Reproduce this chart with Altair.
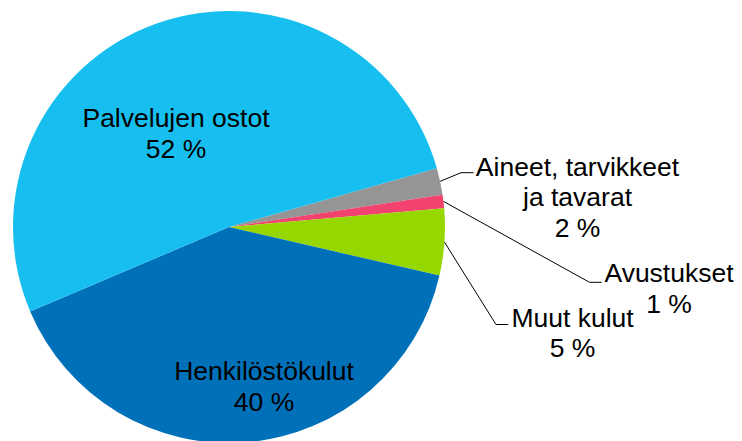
import math
import altair as alt
import pandas as pd

# ---- data ----
categories = ["Aineet, tarvikkeet ja tavarat", "Avustukset", "Muut kulut",
              "Henkilöstökulut", "Palvelujen ostot"]
label_lines = [["Aineet, tarvikkeet", "ja tavarat"], ["Avustukset"], ["Muut kulut"],
               ["Henkilöstökulut"], ["Palvelujen ostot"]]
shares = [2, 1, 5, 40, 52]
colors = ["#959595", "#F2426E", "#97D700", "#0070B8", "#16BFEF"]

# ---- layout ----
W, H = 726, 433
CX, CY, R = 221, 219, 216
START = math.radians(74.2)
FS = 26.5
LH = 30.5

label_x = [569.5, 661, 564.5, 256, 168]
label_y = [167.5, 274, 318.5, 372, 119.3]
# leader lines (elbow x, elbow y, end x) for outside labels
leaders = {0: (453, 164.7, 465.5), 1: (581.5, 274.3, 593.7), 2: (488, 316.5, 500.3)}

total = sum(shares)
df = pd.DataFrame({"category": categories, "share": shares, "order": list(range(len(shares)))})

labels = pd.DataFrame({
    "label": ["\n".join(l + [f"{v} %"]) for l, v in zip(label_lines, shares)],
    "lx": label_x,
    "ly": label_y,
})

rows = []
cum = 0.0
for i, v in enumerate(shares):
    mid = START + 2 * math.pi * (cum + v / 2) / total
    cum += v
    if i in leaders:
        ex, ey, endx = leaders[i]
        sx = CX + R * math.sin(mid)
        sy = CY - R * math.cos(mid)
        rows.append({"x": sx, "y": sy, "x2": ex, "y2": ey})
        rows.append({"x": ex, "y": ey, "x2": endx, "y2": ey})
lines = pd.DataFrame(rows)

arc = alt.Chart(df).mark_arc(outerRadius=R).encode(
    theta=alt.Theta("share:Q", stack=True,
                    scale=alt.Scale(range=[START, START + 2 * math.pi])),
    order=alt.Order("order:Q"),
    color=alt.Color("category:N", scale=alt.Scale(domain=categories, range=colors), legend=None),
    x=alt.value(CX),
    y=alt.value(CY),
)

rules = alt.Chart(lines).mark_rule(color="black", strokeWidth=1).encode(
    x=alt.X("x:Q", scale=None, axis=None),
    y=alt.Y("y:Q", scale=None, axis=None),
    x2="x2:Q",
    y2="y2:Q",
)

text = alt.Chart(labels).mark_text(
    align="center", baseline="alphabetic", lineBreak="\n",
    font="Liberation Sans", fontSize=FS, lineHeight=LH, color="black",
).encode(
    x=alt.X("lx:Q", scale=None, axis=None),
    y=alt.Y("ly:Q", scale=None, axis=None),
    text="label:N",
)

chart = alt.layer(arc, rules, text).properties(
    width=W, height=H, padding=0, autosize="none"
).configure_view(strokeWidth=0)

chart.save("out.html", embed_options={"renderer": "svg", "actions": False})
